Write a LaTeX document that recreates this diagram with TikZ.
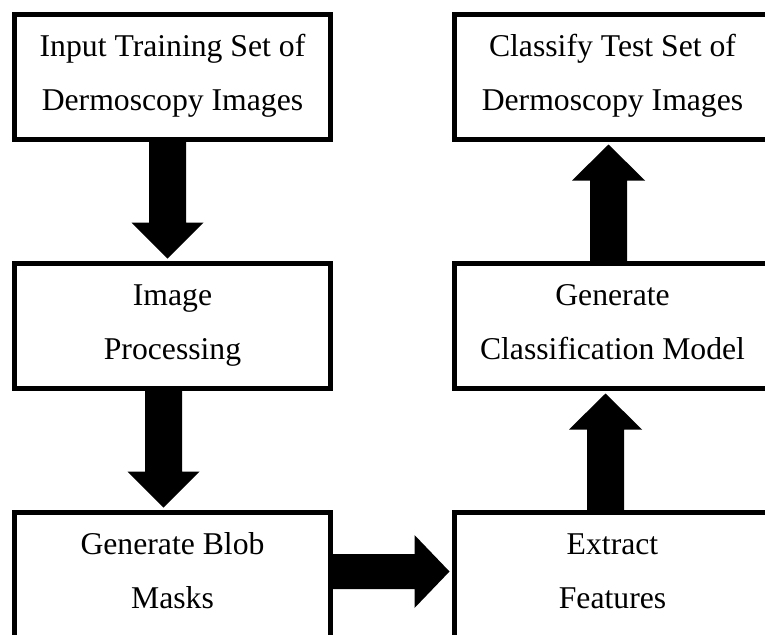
\documentclass[tikz,border=0pt]{standalone}
\usepackage{fontspec}
\setmainfont{Liberation Serif}
\usetikzlibrary{calc}
\newcommand\lnstrut{\rule[-12pt]{0pt}{36pt}}
\begin{document}
\begin{tikzpicture}[x=1pt,y=-1pt,
  stepbox/.style={draw=black, line width=5pt, fill=white, minimum width=316pt,
    minimum height=125pt, inner sep=0pt, align=center,
    font=\fontsize{31.7pt}{54pt}\selectfont}]
\clip (0,0) rectangle (765,634);
\fill[white] (0,0) rectangle (765,634);

\node[stepbox] (in) at (172.5,77) {\lnstrut Input Training Set of\\Dermoscopy Images\lnstrut};
\node[stepbox] (ip) at (172.5,326) {\lnstrut Image\\Processing\lnstrut};
\node[stepbox] (bm) at (172.5,575) {\lnstrut Generate Blob\\Masks\lnstrut};
\node[stepbox] (ef) at (612.5,575) {\lnstrut Extract\\Features\lnstrut};
\node[stepbox] (cm) at (612.5,326) {\lnstrut Generate\\Classification Model\lnstrut};
\node[stepbox] (ct) at (612.5,77) {\lnstrut Classify Test Set of\\Dermoscopy Images\lnstrut};

% down arrow: in -> ip
\fill[black] let \p1=(in.south), \p2=(ip.north) in
  (\x1-23.5pt,\y1) -- (\x1+13.5pt,\y1) -- (\x1+13.5pt,\y2+38.5pt) --
  (\x1+31pt,\y2+38.5pt) -- (\x1-5pt,\y2+2.5pt) -- (\x1-41pt,\y2+38.5pt) --
  (\x1-23.5pt,\y2+38.5pt) -- cycle;
% down arrow: ip -> bm
\fill[black] let \p1=(ip.south), \p2=(bm.north) in
  (\x1-27.5pt,\y1) -- (\x1+9.5pt,\y1) -- (\x1+9.5pt,\y2+38.5pt) --
  (\x1+27pt,\y2+38.5pt) -- (\x1-9pt,\y2+2.5pt) -- (\x1-45pt,\y2+38.5pt) --
  (\x1-27.5pt,\y2+38.5pt) -- cycle;
% right arrow: bm -> ef
\fill[black] let \p1=(bm.east), \p2=(ef.west) in
  (\x1,\y1+21pt) -- (\x2-37.5pt,\y1+21pt) -- (\x2-37.5pt,\y1+40pt) --
  (\x2-2.5pt,\y1+3.5pt) -- (\x2-37.5pt,\y1-33pt) -- (\x2-37.5pt,\y1-14pt) --
  (\x1,\y1-14pt) -- cycle;
% up arrow: ef -> cm
\fill[black] let \p1=(ef.north), \p2=(cm.south) in
  (\x1-25.5pt,\y1) -- (\x1+11.5pt,\y1) -- (\x1+11.5pt,\y2-38.5pt) --
  (\x1+29.5pt,\y2-38.5pt) -- (\x1-7pt,\y2-2.5pt) -- (\x1-43.5pt,\y2-38.5pt) --
  (\x1-25.5pt,\y2-38.5pt) -- cycle;
% up arrow: cm -> ct
\fill[black] let \p1=(cm.north), \p2=(ct.south) in
  (\x1-22.5pt,\y1) -- (\x1+14.5pt,\y1) -- (\x1+14.5pt,\y2-38.5pt) --
  (\x1+32.5pt,\y2-38.5pt) -- (\x1-4pt,\y2-2.5pt) -- (\x1-40.5pt,\y2-38.5pt) --
  (\x1-22.5pt,\y2-38.5pt) -- cycle;
\end{tikzpicture}
\end{document}
